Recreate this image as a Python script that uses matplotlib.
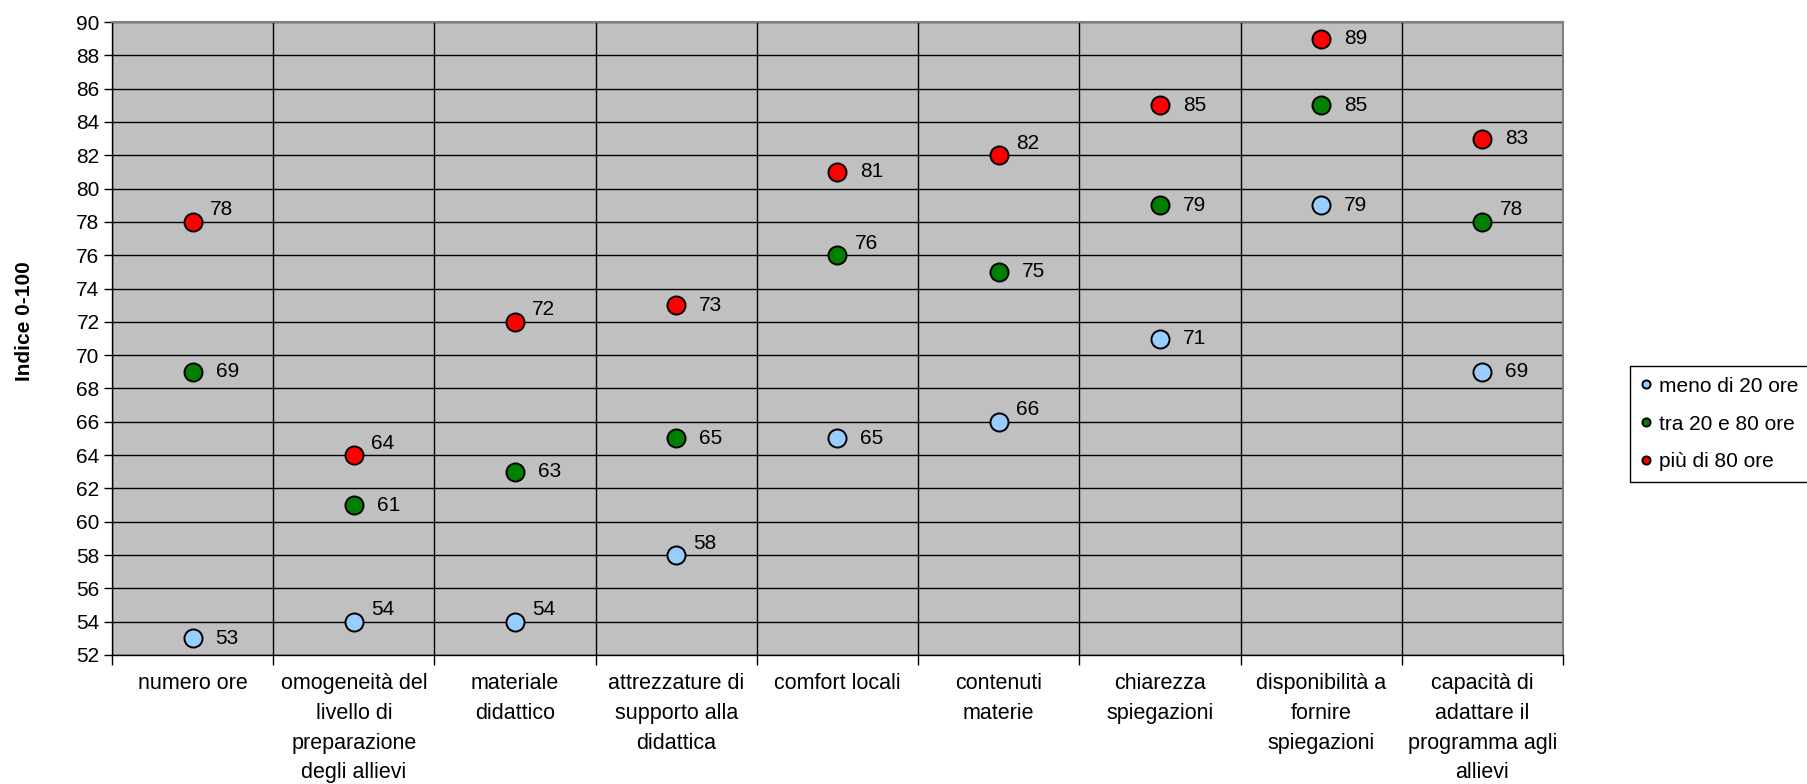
import matplotlib
matplotlib.use('Agg')
import matplotlib.pyplot as plt
from matplotlib.ticker import MultipleLocator

plt.rcParams['font.family'] = ['Liberation Sans', 'DejaVu Sans']

categories = ['numero ore', 'omogeneità del\nlivello di\npreparazione\ndegli allievi',
              'materiale\ndidattico', 'attrezzature di\nsupporto alla\ndidattica',
              'comfort locali', 'contenuti\nmaterie', 'chiarezza\nspiegazioni',
              'disponibilità a\nfornire\nspiegazioni',
              'capacità di\nadattare il\nprogramma agli\nallievi']

series_names = ['meno di 20 ore', 'tra 20 e 80 ore', 'più di 80 ore']
meno_20 = [53, 54, 54, 58, 65, 66, 71, 79, 69]
tra_20_80 = [69, 61, 63, 65, 76, 75, 79, 85, 78]
piu_80 = [78, 64, 72, 73, 81, 82, 85, 89, 83]

# which value labels sit raised above-right of the marker
raised = [
    [False, True, True, True, False, True, False, False, False],
    [False, False, False, False, True, False, False, False, True],
    [True, True, True, False, False, True, False, False, False],
]

colors = ['#99CCFF', '#008000', '#FF0000']

fig = plt.figure(figsize=(18.07, 7.84), dpi=100)
ax = fig.add_axes([112 / 1807, 129 / 784, 1451 / 1807, 633 / 784])
ax.set_facecolor('#C0C0C0')

x = list(range(len(categories)))
for vals, name, col, up in zip([meno_20, tra_20_80, piu_80], series_names, colors, raised):
    ax.plot(x, vals, linestyle='none', marker='o', markersize=13,
            markerfacecolor=col, markeredgecolor='black', markeredgewidth=1.4,
            label=name, zorder=3)
    for xi, v, u in zip(x, vals, up):
        if u:
            ax.annotate(str(v), (xi, v), xytext=(17, 12), textcoords='offset pixels',
                        ha='left', va='center', fontsize=15)
        else:
            ax.annotate(str(v), (xi, v), xytext=(23, 0), textcoords='offset pixels',
                        ha='left', va='center', fontsize=15)

ax.set_xlim(-0.5, len(categories) - 0.5)
ax.set_ylim(52, 90)
ax.yaxis.set_major_locator(MultipleLocator(2))
ax.set_xticks(x)
ax.set_xticklabels(categories, fontsize=15.5, linespacing=1.55)
ax.set_xticks([i - 0.5 for i in range(len(categories) + 1)], minor=True)
ax.tick_params(axis='x', which='major', length=0, pad=13)
ax.tick_params(axis='x', which='minor', length=7, width=1, direction='out')
ax.tick_params(axis='y', length=6, width=1, direction='out', labelsize=15, pad=3)

ax.grid(axis='y', which='major', color='black', linewidth=1)
ax.grid(axis='x', which='minor', color='black', linewidth=1)
ax.set_axisbelow(True)

for side in ['top', 'right']:
    ax.spines[side].set_color('#808080')
    ax.spines[side].set_linewidth(1.5)
for side in ['left', 'bottom']:
    ax.spines[side].set_color('black')
    ax.spines[side].set_linewidth(1)

ax.set_ylabel('Indice 0-100', fontsize=15, fontweight='bold')
ax.yaxis.set_label_coords(-78 / 1451, (655 - 321) / 633)

leg = ax.legend(loc='center left', bbox_to_anchor=(1630 / 1807, 1 - 424 / 784),
                bbox_transform=fig.transFigure, fontsize=15, markerscale=0.45,
                handlelength=0.5, handletextpad=0.4, labelspacing=0.9,
                borderaxespad=0, borderpad=0.5, fancybox=False, framealpha=1)
leg.get_frame().set_edgecolor('black')
leg.get_frame().set_linewidth(1)

fig.savefig('out.png', dpi=100)
